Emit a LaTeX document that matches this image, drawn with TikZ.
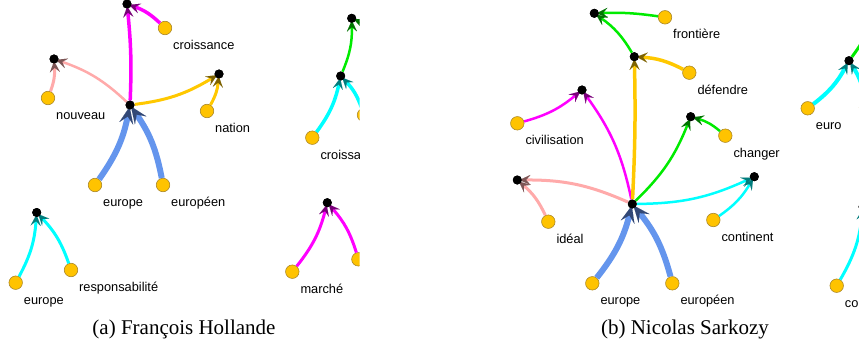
\documentclass[tikz,border=0pt]{standalone}
\usepackage{fontspec}
\setmainfont{Liberation Serif}
\newfontfamily\lblfont{Liberation Sans}
\usetikzlibrary{arrows.meta,calc}
\definecolor{ygold}{RGB}{255,195,0}
\definecolor{yedge}{RGB}{170,135,40}
\definecolor{cblue}{RGB}{100,149,237}
\definecolor{dblue}{RGB}{50,72,118}
\definecolor{emag}{RGB}{255,0,255}
\definecolor{dmag}{RGB}{120,0,120}
\definecolor{epink}{RGB}{255,170,170}
\definecolor{dpink}{RGB}{125,85,85}
\definecolor{egold}{RGB}{255,200,0}
\definecolor{dgold}{RGB}{125,98,0}
\definecolor{ecyan}{RGB}{0,255,255}
\definecolor{dcyan}{RGB}{0,125,125}
\definecolor{egreen}{RGB}{0,235,0}
\definecolor{dgreen}{RGB}{0,115,0}
\tikzset{
  yel/.style={circle, fill=ygold, draw=yedge, line width=0.6pt, inner sep=0pt, minimum size=13.5pt},
  blk/.style={circle, fill=black, inner sep=0pt, minimum size=9pt},
  lbl/.style={font=\lblfont\fontsize{12.8}{14}\selectfont, anchor=base west, inner sep=0pt},
  captxt/.style={font=\fontsize{21}{24}\selectfont, inner sep=0pt},
  tipn/.style={-{Stealth[length=11pt, width=10pt, inset=4.5pt, line width=0.01pt, color=#1]}, shorten >=-2.5pt},
  tipb/.style={-{Stealth[length=17pt, width=14pt, inset=7pt, line width=0.01pt, color=#1]}, shorten >=-3pt},
  eblue/.style={draw=cblue, line width=6pt, tipb=dblue, bend right=12},
  emg/.style={draw=emag, line width=#1, tipn=dmag, bend right=12},
  epk/.style={draw=epink, line width=#1, tipn=dpink, bend right=12},
  egd/.style={draw=egold, line width=#1, tipn=dgold, bend right=12},
  ecy/.style={draw=ecyan, line width=#1, tipn=dcyan, bend right=12},
  egr/.style={draw=egreen, line width=#1, tipn=dgreen, bend right=12},
}
\begin{document}
\begin{tikzpicture}[x=1pt,y=-1pt]
\useasboundingbox (0,0) rectangle (859,342);
% ---------------- panel (a)
\begin{scope}
\clip (0,0) rectangle (359.5,342);
\node[blk] (a_top) at (127,4) {};
\node[yel] (a_cro) at (165,28) {};
\node[blk] (a_nt) at (54,59) {};
\node[yel] (a_nou) at (48,98) {};
\node[blk] (a_c) at (130,105) {};
\node[blk] (a_natt) at (219,74) {};
\node[yel] (a_nat) at (207,111) {};
\node[yel] (a_eu) at (95,185) {};
\node[yel] (a_eun) at (163,185) {};
\node[blk] (a_g) at (351.7,18.3) {};
\node[blk] (a_m) at (340.7,76) {};
\node[yel] (a_cr2) at (312.3,137.7) {};
\node[yel] (a_y2) at (364,115) {};
\coordinate (a_ext) at (390,45);
\node[blk] (a_bl) at (36.7,212.5) {};
\node[yel] (a_eu2) at (15.7,282.7) {};
\node[yel] (a_resp) at (71,270) {};
\node[blk] (a_br) at (327.3,202.7) {};
\node[yel] (a_mar) at (292.3,271.7) {};
\node[yel] (a_y3) at (358.4,259.3) {};
\draw[emg=3.5pt, bend right=4] (a_c) to (a_top);
\draw[emg=3.5pt] (a_cro) to (a_top);
\draw[epk=2.5pt] (a_c) to (a_nt);
\draw[epk=3pt] (a_nou) to (a_nt);
\draw[egd=3pt] (a_c) to (a_natt);
\draw[egd=3pt] (a_nat) to (a_natt);
\draw[eblue] (a_eu) to (a_c);
\draw[eblue] (a_eun) to (a_c);
\draw[egr=2.5pt] (a_m) to (a_g);
\draw[egr=2.5pt] (a_ext) to (a_g);
\draw[ecy=3.5pt] (a_cr2) to (a_m);
\draw[ecy=3.5pt] (a_y2) to (a_m);
\draw[ecy=3pt] (a_eu2) to (a_bl);
\draw[ecy=3pt] (a_resp) to (a_bl);
\draw[emg=3pt] (a_mar) to (a_br);
\draw[emg=3pt] (a_y3) to (a_br);
\foreach \n in {a_top,a_nt,a_c,a_natt,a_g,a_m,a_bl,a_br}
  \fill (\n) circle[radius=4.5pt];
\node[lbl] (la_cro) at ($(a_cro)+(8,21.5)$) {croissance};
\node[lbl] (la_nou) at ($(a_nou)+(8,21.5)$) {nouveau};
\node[lbl] (la_nat) at ($(a_nat)+(8,21.5)$) {nation};
\node[lbl] (la_eu) at ($(a_eu)+(8,21.5)$) {europe};
\node[lbl] (la_eun) at ($(a_eun)+(8,21.5)$) {européen};
\node[lbl] (la_cr2) at ($(a_cr2)+(8,21.5)$) {croissa};
\node[lbl] (la_eu2) at ($(a_eu2)+(8,21.5)$) {europe};
\node[lbl] (la_resp) at ($(a_resp)+(8,21.5)$) {responsabilité};
\node[lbl] (la_mar) at ($(a_mar)+(8,21.5)$) {marché};
\end{scope}
\node[captxt] (capa) at (184,329) {(a) François Hollande};
% ---------------- panel (b)
\begin{scope}
\clip (495,0) rectangle (859,342);
\node[blk] (b_f) at (594.3,13.3) {};
\node[yel] (b_fro) at (665,17.3) {};
\node[blk] (b_d) at (634.3,56.7) {};
\node[yel] (b_def) at (689.3,72.7) {};
\node[blk] (b_civt) at (582,90) {};
\node[yel] (b_civ) at (517.3,123.3) {};
\node[blk] (b_cht) at (690.7,116.7) {};
\node[yel] (b_ch) at (725.3,135.7) {};
\node[blk] (b_r) at (849,60.7) {};
\node[yel] (b_euro) at (807.7,108.3) {};
\node[yel] (b_y4) at (866,107.3) {};
\coordinate (b_ext) at (878,0);
\node[blk] (b_contt) at (754.3,176.7) {};
\node[blk] (b_idt) at (517.3,180) {};
\node[blk] (b_c) at (632.3,204) {};
\node[yel] (b_id) at (548.3,221.7) {};
\node[yel] (b_cont) at (713.3,220) {};
\node[yel] (b_eu) at (592.3,283.3) {};
\node[yel] (b_eun) at (672.3,283.3) {};
\node[blk] (b_r2) at (863,206.7) {};
\node[yel] (b_y5) at (836.7,285.7) {};
\draw[emg=2.5pt] (b_c) to (b_civt);
\draw[emg=2.5pt] (b_civ) to (b_civt);
\draw[egd=3.5pt, bend right=2] (b_c) to (b_d);
\draw[egd=3.5pt] (b_def) to (b_d);
\draw[egr=2.5pt] (b_d) to (b_f);
\draw[egr=2.5pt, bend right=5] (b_fro) to (b_f);
\draw[egr=2.5pt] (b_c) to (b_cht);
\draw[egr=2.5pt] (b_ch) to (b_cht);
\draw[epk=3pt] (b_c) to (b_idt);
\draw[epk=3pt] (b_id) to (b_idt);
\draw[ecy=2.5pt] (b_c) to (b_contt);
\draw[ecy=2.5pt] (b_cont) to (b_contt);
\draw[eblue] (b_eu) to (b_c);
\draw[eblue] (b_eun) to (b_c);
\draw[ecy=4pt] (b_euro) to (b_r);
\draw[ecy=4pt] (b_y4) to (b_r);
\draw[egr=3pt] (b_r) to (b_ext);
\draw[ecy=3pt] (b_y5) to (b_r2);
\foreach \n in {b_f,b_d,b_civt,b_cht,b_r,b_contt,b_idt,b_c,b_r2}
  \fill (\n) circle[radius=4.5pt];
\node[lbl] (lb_fro) at ($(b_fro)+(8,21.5)$) {frontière};
\node[lbl] (lb_def) at ($(b_def)+(8,21.5)$) {défendre};
\node[lbl] (lb_civ) at ($(b_civ)+(8,21.5)$) {civilisation};
\node[lbl] (lb_ch) at ($(b_ch)+(8,21.5)$) {changer};
\node[lbl] (lb_euro) at ($(b_euro)+(8,21.5)$) {euro};
\node[lbl] (lb_id) at ($(b_id)+(8,21.5)$) {idéal};
\node[lbl] (lb_cont) at ($(b_cont)+(8,21.5)$) {continent};
\node[lbl] (lb_eu) at ($(b_eu)+(8,21.5)$) {europe};
\node[lbl] (lb_eun) at ($(b_eun)+(8,21.5)$) {européen};
\node[lbl] (lb_co) at ($(b_y5)+(8,21.5)$) {co};
\end{scope}
\node[captxt] (capb) at (685,329) {(b) Nicolas Sarkozy};
\end{tikzpicture}
\end{document}
